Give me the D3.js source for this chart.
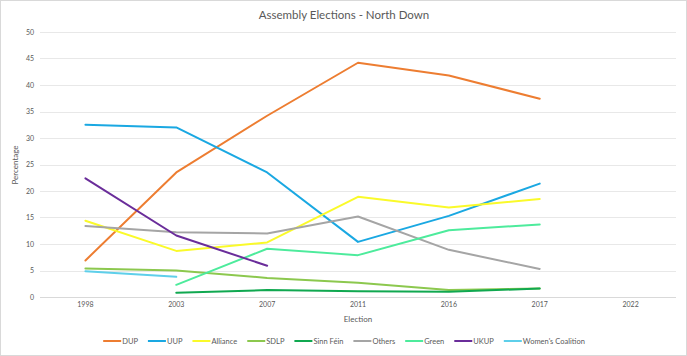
<!DOCTYPE html>
<html>
<head>
<meta charset="utf-8">
<script src="https://cdn.jsdelivr.net/npm/d3@7/dist/d3.min.js"></script>
<style>
  html, body { margin: 0; padding: 0; background: #fff; }
  svg { display: block; font-family: Lato, "Open Sans", sans-serif; }
</style>
</head>
<body>
<svg id="chart" width="687" height="356"></svg>
<script>
const years = ["1998", "2003", "2007", "2011", "2016", "2017", "2022"];
const yTicks = [0, 5, 10, 15, 20, 25, 30, 35, 40, 45, 50];

const partyNames = ["DUP", "UUP", "Alliance", "SDLP", "Sinn Féin", "Others", "Green", "UKUP", "Women's Coalition"];
const partyColors = ["#ED7D31", "#1AA8E2", "#FAFA2A", "#8CC84E", "#10A850", "#A5A5A5", "#4DEB9C", "#6A2D9A", "#5ECFEA"];

const dup      = [6.9, 23.5, 34.2, 44.2, 41.8, 37.4, null];
const uup      = [32.5, 32.0, 23.5, 10.4, 15.3, 21.4, null];
const alliance = [14.4, 8.7, 10.3, 18.9, 16.9, 18.5, null];
const sdlp     = [5.4, 5.0, 3.6, 2.7, 1.3, 1.6, null];
const sinnFein = [null, 0.8, 1.3, 1.1, 1.0, 1.6, null];
const others   = [13.4, 12.2, 12.0, 15.2, 8.9, 5.3, null];
const green    = [null, 2.3, 9.1, 7.9, 12.6, 13.7, null];
const ukup     = [22.4, 11.6, 5.9, null, null, null, null];
const womens   = [4.85, 3.8, null, null, null, null, null];

const seriesValues = [dup, uup, alliance, sdlp, sinnFein, others, green, ukup, womens];

const svg = d3.select("#chart");
const W = 687, H = 356;
const margin = { left: 40, right: 11, top: 32, bottom: 59 };

// outer frame
svg.append("rect").attr("x", 0.5).attr("y", 0.5).attr("width", W - 1).attr("height", H - 1)
  .attr("fill", "#fff").attr("stroke", "#D9D9D9");

const x = d3.scaleBand().domain(years).range([margin.left, W - margin.right]);
const y = d3.scaleLinear().domain([0, 50]).range([H - margin.bottom, margin.top]);

// gridlines
svg.append("g").selectAll("line").data(yTicks).join("line")
  .attr("x1", margin.left).attr("x2", W - margin.right)
  .attr("y1", d => Math.round(y(d)) + 0.5).attr("y2", d => Math.round(y(d)) + 0.5)
  .attr("stroke", d => d === 0 ? "#D9D9D9" : "#E8E8E8").attr("stroke-width", 1);

// y axis labels
const yAxis = d3.axisLeft(y).tickValues(yTicks).tickSize(0).tickPadding(0);
const gy = svg.append("g").attr("transform", `translate(${margin.left - 6},0)`).call(yAxis);
gy.select(".domain").remove();
gy.selectAll("text").attr("fill", "#595959").style("font-size", "7px").style("font-family", "Lato, sans-serif");

// x axis labels
const xAxis = d3.axisBottom(x).tickSize(0).tickPadding(0);
const gx = svg.append("g").attr("transform", `translate(0,${H - margin.bottom + 5})`).call(xAxis);
gx.select(".domain").remove();
gx.selectAll("text").attr("fill", "#595959").style("font-size", "7px").style("font-family", "Lato, sans-serif");

// lines
const line = d3.line()
  .defined(d => d.v !== null)
  .x(d => x(d.year) + x.bandwidth() / 2)
  .y(d => y(d.v));

seriesValues.forEach((vals, i) => {
  const pts = years.map((yr, j) => ({ year: yr, v: vals[j] }));
  svg.append("path").datum(pts)
    .attr("d", line)
    .attr("fill", "none")
    .attr("stroke", partyColors[i])
    .attr("stroke-width", 2)
    .attr("stroke-linejoin", "round")
    .attr("stroke-linecap", "round");
});

// title
svg.append("text").attr("x", 344).attr("y", 19).attr("text-anchor", "middle")
  .attr("fill", "#595959").style("font-size", "11.5px").text("Assembly Elections - North Down");

// axis titles
svg.append("text").attr("x", 358).attr("y", 322).attr("text-anchor", "middle")
  .attr("fill", "#595959").style("font-size", "8px").text("Election");
svg.append("text").attr("transform", "translate(18,165) rotate(-90)").attr("text-anchor", "middle")
  .attr("fill", "#595959").style("font-size", "8px").text("Percentage");

// legend
const legend = svg.append("g");
let cx = 0;
partyNames.forEach((name, i) => {
  const g = legend.append("g");
  g.append("line").attr("x1", 0).attr("x2", 18).attr("y1", 0).attr("y2", 0)
    .attr("stroke", partyColors[i]).attr("stroke-width", 2);
  const t = g.append("text").attr("x", 19).attr("y", 2.6).attr("fill", "#595959")
    .style("font-size", "7.5px").text(name);
  const w = 19 + t.node().getComputedTextLength();
  g.attr("transform", `translate(${cx},0)`);
  cx += w + 10;
});
const totalW = cx - 10;
legend.attr("transform", `translate(${344 - totalW / 2},341)`);
</script>
</body>
</html>
